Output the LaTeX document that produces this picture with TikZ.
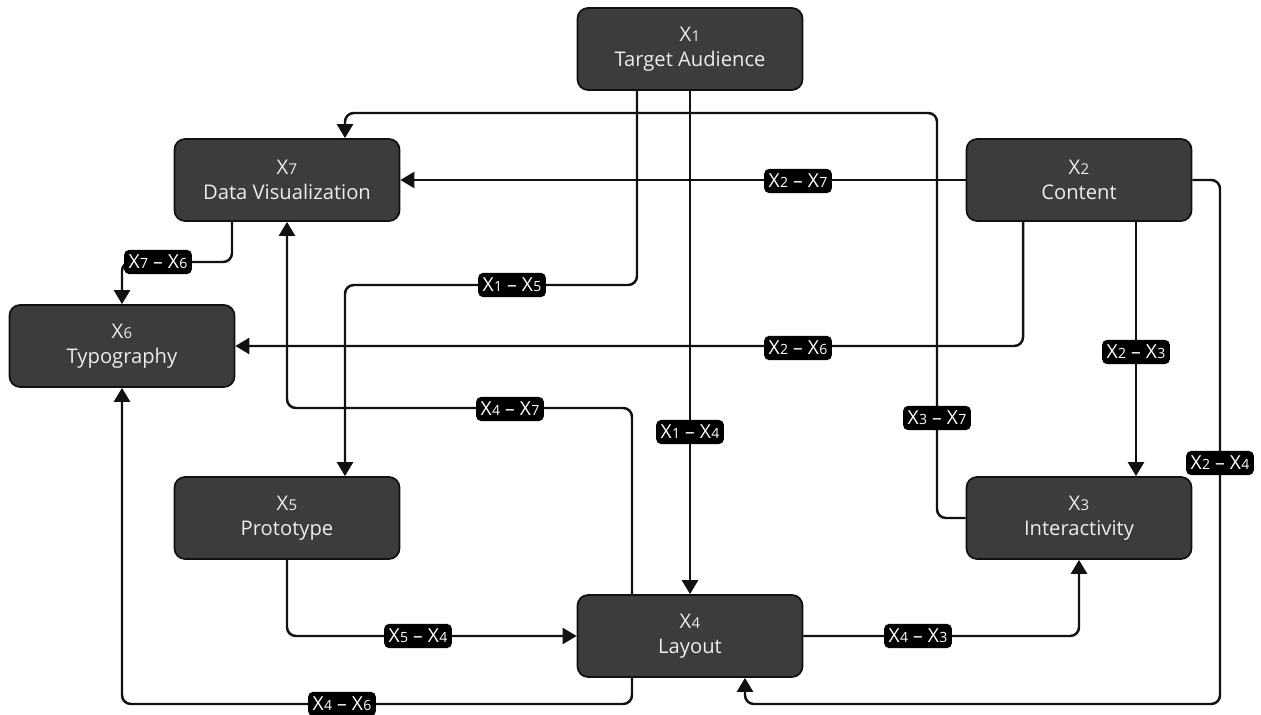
\documentclass[tikz,border=0pt]{standalone}
\usepackage{fontspec}
\setmainfont{Open Sans}
\usetikzlibrary{arrows.meta,positioning}
\definecolor{slate}{RGB}{60,60,60}
\definecolor{pale}{RGB}{236,236,236}
\definecolor{ink}{RGB}{17,17,17}
\newcommand\vx[2][8.5]{X\kern0.2pt{\fontsize{#1}{#1}\selectfont #2}}
\newcommand\lk[2]{\vx[8]{#1} – \vx[8]{#2}}
\tikzset{
  >={Triangle[length=2.8mm,width=3.2mm]},
  box/.style={draw=ink,fill=slate,text=pale,rounded corners=6pt,line width=1pt,
    minimum width=4.5cm,minimum height=1.64cm,align=center,
    font=\fontsize{11.5}{14.5}\selectfont},
  tag/.style={fill=black,text=white,rounded corners=3pt,inner xsep=2.6pt,inner ysep=3pt,
    font=\fontsize{11}{12}\selectfont},
  flow/.style={->,draw=ink,line width=1.4pt,rounded corners=5pt},
}
\begin{document}
\begin{tikzpicture}[x=0.02cm,y=-0.02cm]
  \useasboundingbox (0,0) rectangle (1261,715);
  % factors
  \node[box] (x1) at (690,49) {\vx{1}\\Target Audience};
  \node[box] (x7) at (287,180) {\vx{7}\\Data Visualization};
  \node[box] (x2) at (1079,180) {\vx{2}\\Content};
  \node[box] (x6) at (122,346) {\vx{6}\\Typography};
  \node[box] (x5) at (287,518) {\vx{5}\\Prototype};
  \node[box] (x3) at (1079,518) {\vx{3}\\Interactivity};
  \node[box] (x4) at (690,636) {\vx{4}\\Layout};
  % links
  \draw[flow] (x3.west) -| (937,113) -| ([xshift=1.16cm]x7.north);
  \draw[flow] ([xshift=-1.06cm]x1.south) -- (637,285) -| ([xshift=1.16cm]x5.north);
  \draw[flow] (x1.south) -- (x4.north);
  \draw[flow] (x2.west) -- (x7.east);
  \draw[flow] ([xshift=-1.12cm]x2.south) |- (x6.east);
  \draw[flow] ([xshift=1.14cm]x2.south) -- ([xshift=1.14cm]x3.north);
  \draw[flow] (x2.east) -| (1220,704) -| ([xshift=1.1cm]x4.south);
  \draw[flow] ([xshift=-1.1cm]x7.south) -- (232,262) -| (x6.north);
  \draw[flow] ([xshift=-1.16cm]x4.north) -- (632,408) -| (x7.south);
  \draw[flow] (x5.south) |- (x4.west);
  \draw[flow] (x4.east) -| (x3.south);
  \draw[flow] ([xshift=-1.16cm]x4.south) -- (632,704) -| (x6.south);
  % link labels
  \node[tag] (l37) at (937,418) {\lk{3}{7}};
  \node[tag] (l15) at (512,285) {\lk{1}{5}};
  \node[tag] (l14) at (690,432) {\lk{1}{4}};
  \node[tag] (l27) at (798,181) {\lk{2}{7}};
  \node[tag] (l26) at (798,348) {\lk{2}{6}};
  \node[tag] (l23) at (1136,352) {\lk{2}{3}};
  \node[tag] (l24) at (1220,463) {\lk{2}{4}};
  \node[tag] (l76) at (158,262) {\lk{7}{6}};
  \node[tag] (l47) at (510,409) {\lk{4}{7}};
  \node[tag] (l54) at (418,636) {\lk{5}{4}};
  \node[tag] (l43) at (918,636) {\lk{4}{3}};
  \node[tag] (l46) at (342,704) {\lk{4}{6}};
\end{tikzpicture}
\end{document}
